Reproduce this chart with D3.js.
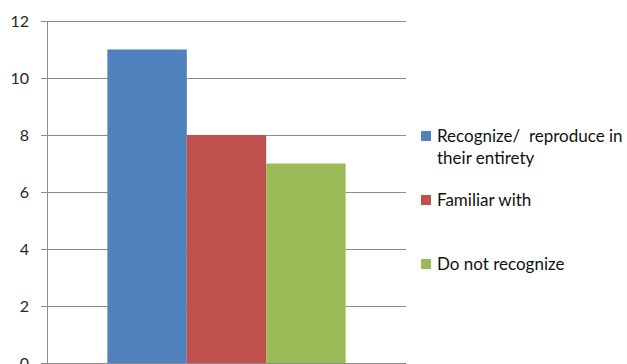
<html>
<head>
  <script src="https://cdnjs.cloudflare.com/ajax/libs/d3/7.8.5/d3.min.js"></script>
  <style>body { margin: 0; background: #fff; }</style>
</head>
<body>
  <script>
    const series = [ "Recognize/  reproduce in their entirety", "Familiar with", "Do not recognize" ];
    const values = [ 11, 8, 7 ];
    const colors = [ "#4F81BD", "#C0504D", "#9BBB59" ];
    const yTicks = [ 0, 2, 4, 6, 8, 10, 12 ];

    const width = 627, height = 364;
    const plotLeft = 47, plotRight = 406, plotTop = 21, plotBottom = 363;

    const svg = d3.select( "body" )
      .append( "svg" )
      .attr( "width", width )
      .attr( "height", height )
      .style( "font-family", "Lato, 'Open Sans', sans-serif" );

    const y = d3.scaleLinear()
      .domain( [0, 12] )
      .range( [plotBottom, plotTop] );

    // single category, gap width 150% split on both sides
    const x = d3.scaleBand()
      .domain( series )
      .range( [plotLeft, plotRight] )
      .paddingInner( 0 )
      .paddingOuter( 0.76 );

    // gridlines
    svg.append( "g" )
      .selectAll( "line" )
      .data( yTicks )
      .enter()
      .append( "line" )
      .attr( "x1", plotLeft - 6 )
      .attr( "x2", plotRight )
      .attr( "y1", d => Math.round( y( d ) ) + 0.5 )
      .attr( "y2", d => Math.round( y( d ) ) + 0.5 )
      .attr( "stroke", "#8c8c8c" )
      .attr( "stroke-width", 1 );

    svg.append( "g" )
      .selectAll( "rect" )
      .data( values )
      .enter()
      .append( "rect" )
      .attr( "x", ( d, i ) => x( series[i] ) )
      .attr( "width", x.bandwidth() )
      .attr( "y", d => y( d ) )
      .attr( "height", d => y( 0 ) - y( d ) )
      .attr( "fill", ( d, i ) => colors[i] );

    // y axis line
    svg.append( "line" )
      .attr( "x1", plotLeft + 0.5 ).attr( "x2", plotLeft + 0.5 )
      .attr( "y1", plotTop ).attr( "y2", plotBottom + 1 )
      .attr( "stroke", "#8c8c8c" );

    svg.append( "g" )
      .selectAll( "text" )
      .data( yTicks )
      .enter()
      .append( "text" )
      .attr( "x", 29 )
      .attr( "y", d => y( d ) + 6 )
      .attr( "text-anchor", "end" )
      .attr( "font-size", 16 )
      .attr( "fill", "#262626" )
      .text( d => d );

    // legend
    const legendY = [ 136, 200, 264 ];
    const legendLines = [ [ "Recognize/  reproduce in", "their entirety" ], [ "Familiar with" ], [ "Do not recognize" ] ];
    const legend = svg.append( "g" );
    legendY.forEach( ( ly, i ) => {
      legend.append( "rect" )
        .attr( "x", 421 ).attr( "y", ly - 5 )
        .attr( "width", 10 ).attr( "height", 10 )
        .attr( "fill", colors[i] );
      legend.append( "text" )
        .attr( "x", 437 )
        .attr( "y", ly + 6 )
        .attr( "font-size", 17 )
        .attr( "fill", "#111" )
        .style( "white-space", "pre" )
        .selectAll( "tspan" )
        .data( legendLines[i] )
        .enter()
        .append( "tspan" )
        .attr( "x", 437 )
        .attr( "dy", ( d, j ) => j ? 22 : 0 )
        .text( d => d );
    } );
  </script>
</body>
</html>
